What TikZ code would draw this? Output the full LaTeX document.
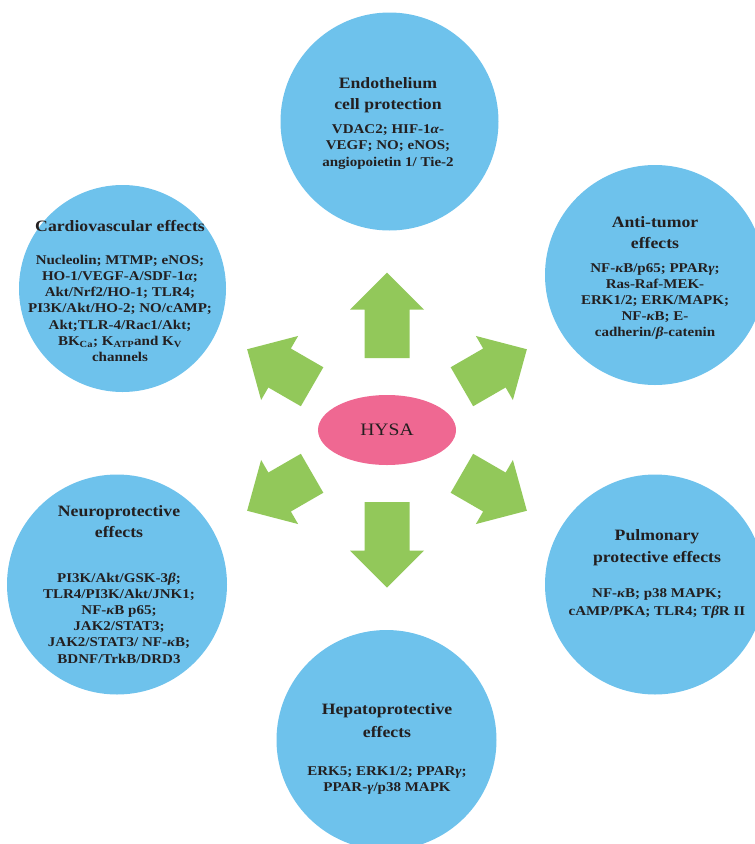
\documentclass[tikz,border=0pt]{standalone}
\usepackage{fontspec}
\setmainfont{Liberation Serif}[FakeStretch=1.12]
\usetikzlibrary{shapes.geometric}
\definecolor{circblue}{HTML}{6EC2EC}
\definecolor{arrgreen}{HTML}{92C85A}
\definecolor{hysapink}{HTML}{EF6892}
\definecolor{txtdark}{HTML}{231F20}
\newcommand{\gk}[1]{{\itshape #1}}
\newcommand{\bigarrow}[4]{%
  \fill[blockarrow, shift={(hysa.center)}, rotate=#1]
    (#2,-22.5) -- (#2+#3,-22.5) -- (#2+#3,-37) -- (#2+#3+#4,0) --
    (#2+#3,37) -- (#2+#3,22.5) -- (#2,22.5) -- cycle;}
\tikzset{
  effect/.style={circle, fill=circblue, draw=none, inner sep=0pt},
  ttl/.style={font=\fontsize{15.8}{19}\selectfont\bfseries, text=txtdark, anchor=base, inner sep=0pt},
  bdy/.style={font=\fontsize{13.4}{15}\selectfont\bfseries, text=txtdark, anchor=base, inner sep=0pt},
  blockarrow/.style={fill=arrgreen, draw=none},
  hysastyle/.style={ellipse, fill=hysapink, draw=none, minimum width=138pt, minimum height=70pt, inner sep=0pt,
    text=txtdark, font=\fontsize{17.5}{20}\selectfont},
}
\begin{document}
\begin{tikzpicture}[x=1pt,y=1pt]
\useasboundingbox (0,0) rectangle (755,-844);
\clip (0,0) rectangle (755,-844);
% circles
\node[effect, minimum size=218pt] (endo) at (389.5,-121.5) {};
\node[effect, minimum size=207pt] (cardio) at (122.5,-288.5) {};
\node[effect, minimum size=220pt] (anti) at (655,-275) {};
\node[effect, minimum size=220pt] (neuro) at (117,-584.5) {};
\node[effect, minimum size=220pt] (pulm) at (655,-584.5) {};
\node[effect, minimum size=220pt] (hepa) at (386.5,-740) {};
% center
\node[hysastyle] (hysa) at (387,-430) {HYSA};
% arrows
\bigarrow{90}{72}{48.5}{37}
\bigarrow{-90}{72}{48.5}{37}
\bigarrow{30}{86.5}{37.5}{37.5}
\bigarrow{150}{86.5}{37.5}{37.5}
\bigarrow{210}{86.5}{37.5}{37.5}
\bigarrow{-30}{86.5}{37.5}{37.5}
% Endothelium
\node[ttl] (endo-t0) at (388,-88) {Endothelium};
\node[ttl] (endo-t1) at (388,-109) {cell protection};
\foreach \txt [count=\i from 0] in {{VDAC2; HIF-1\gk{α}-},{VEGF; NO; eNOS;},{angiopoietin 1/ Tie-2}}
  \node[bdy] (endo-b\i) at (388,-133-16.5*\i) {\txt};
% Cardiovascular
\node[ttl] (cardio-t0) at (120,-231) {Cardiovascular effects};
\foreach \txt [count=\i from 0] in {{Nucleolin; MTMP; eNOS;},{HO-1/VEGF-A/SDF-1\gk{α};},{Akt/Nrf2/HO-1; TLR4;},{PI3K/Akt/HO-2; NO/cAMP;},{Akt;TLR-4/Rac1/Akt;},{BK\textsubscript{Ca}; K\textsubscript{ATP}and K\textsubscript{V}},{channels}}
  \node[bdy] (cardio-b\i) at (120,-264-16.3*\i) {\txt};
% Anti-tumor
\node[ttl] (anti-t0) at (655,-227) {Anti-tumor};
\node[ttl] (anti-t1) at (655,-248) {effects};
\foreach \txt [count=\i from 0] in {{NF-\gk{κ}B/p65; PPAR\gk{γ};},{Ras-Raf-MEK-},{ERK1/2; ERK/MAPK;},{NF-\gk{κ}B; E-},{cadherin/\gk{β}-catenin}}
  \node[bdy] (anti-b\i) at (655,-272-16*\i) {\txt};
% Neuroprotective
\node[ttl] (neuro-t0) at (119,-516) {Neuroprotective};
\node[ttl] (neuro-t1) at (119,-537) {effects};
\foreach \txt [count=\i from 0] in {{PI3K/Akt/GSK-3\gk{β};},{TLR4/PI3K/Akt/JNK1;},{NF-\gk{κ}B p65;},{JAK2/STAT3;},{JAK2/STAT3/ NF-\gk{κ}B;},{BDNF/TrkB/DRD3}}
  \node[bdy] (neuro-b\i) at (119,-582-16.2*\i) {\txt};
% Pulmonary
\node[ttl] (pulm-t0) at (657,-540) {Pulmonary};
\node[ttl] (pulm-t1) at (657,-562) {protective effects};
\foreach \txt [count=\i from 0] in {{NF-\gk{κ}B; p38 MAPK;},{cAMP/PKA; TLR4; T\gk{β}R II}}
  \node[bdy] (pulm-b\i) at (657,-597-18*\i) {\txt};
% Hepatoprotective
\node[ttl] (hepa-t0) at (387,-714) {Hepatoprotective};
\node[ttl] (hepa-t1) at (387,-737) {effects};
\foreach \txt [count=\i from 0] in {{ERK5; ERK1/2; PPAR\gk{γ};},{PPAR-\gk{γ}/p38 MAPK}}
  \node[bdy] (hepa-b\i) at (387,-775-16.5*\i) {\txt};
\end{tikzpicture}
\end{document}
